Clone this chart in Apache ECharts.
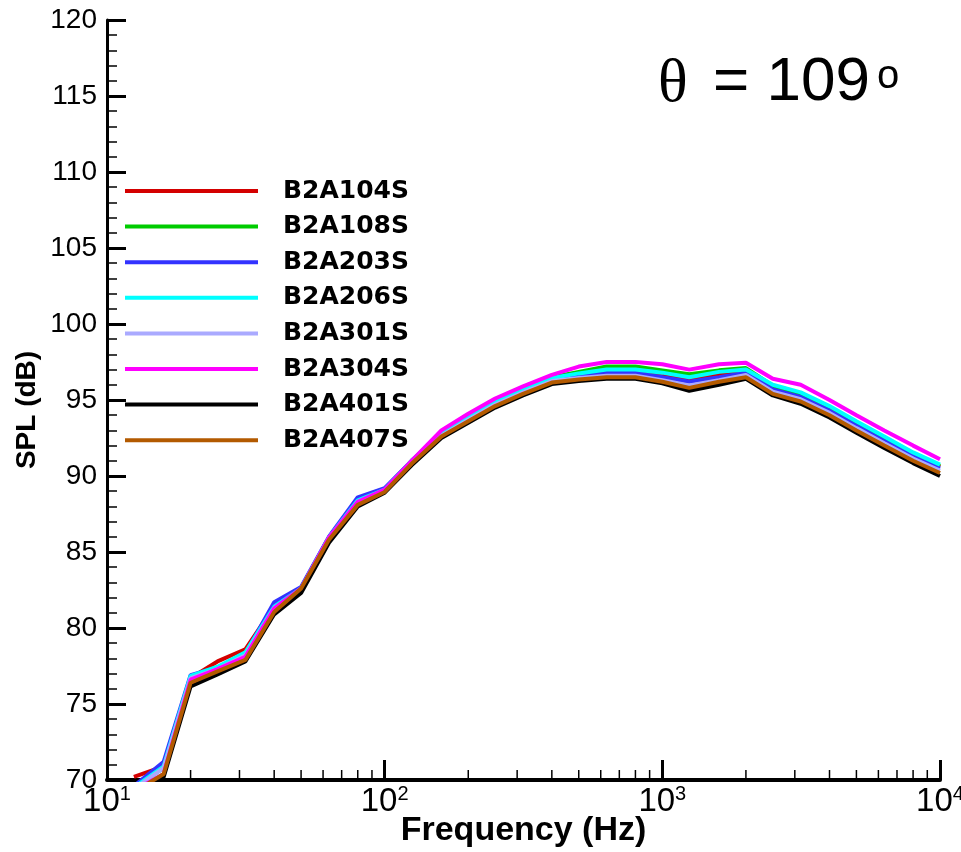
<!DOCTYPE html>
<html>
<head>
<meta charset="utf-8">
<script src="https://cdn.jsdelivr.net/npm/echarts@6/dist/echarts.min.js"></script>
<style>
html,body{margin:0;padding:0;background:#fff;}
#chart{width:961px;height:852px;}
</style>
</head>
<body>
<div id="chart"></div>
<script>
// Frequencies (1/3-octave band centres, Hz)
const freqs = [12.5, 16, 20, 25, 31.5, 40, 50, 63, 80, 100, 125, 160, 200, 250, 315, 400, 500, 630, 800, 1000, 1250, 1600, 2000, 2500, 3150, 4000, 5000, 6300, 8000, 10000];

const seriesNames = ['B2A104S', 'B2A108S', 'B2A203S', 'B2A206S', 'B2A301S', 'B2A304S', 'B2A401S', 'B2A407S'];
const seriesColors = ['#d40000', '#00cc00', '#3333ff', '#00ffff', '#aaaaff', '#ff00ff', '#000000', '#b35a00'];

const spl_B2A104S = [70.2, 70.9, 76.7, 77.8, 78.6, 81.4, 82.6, 85.9, 88.3, 89.1, 90.9, 92.7, 93.8, 94.8, 95.6, 96.4, 96.7, 96.95, 96.95, 96.65, 96.4, 96.7, 97.0, 95.85, 95.35, 94.45, 93.45, 92.45, 91.4, 90.6];
const spl_B2A108S = [69.5, 70.8, 76.7, 77.4, 78.3, 81.4, 82.6, 85.95, 88.4, 89.1, 91.0, 92.8, 93.9, 94.9, 95.7, 96.5, 96.85, 97.2, 97.2, 96.95, 96.7, 96.95, 97.1, 95.95, 95.4, 94.5, 93.5, 92.5, 91.45, 90.65];
const spl_B2A203S = [69.6, 71.2, 76.9, 77.4, 78.3, 81.7, 82.7, 86.0, 88.6, 89.2, 91.0, 92.7, 93.8, 94.8, 95.6, 96.35, 96.6, 96.8, 96.8, 96.5, 96.2, 96.5, 96.8, 95.7, 95.2, 94.3, 93.3, 92.3, 91.3, 90.5];
const spl_B2A206S = [69.5, 70.9, 76.85, 77.45, 78.4, 81.4, 82.6, 85.95, 88.4, 89.1, 91.0, 92.8, 93.9, 94.9, 95.7, 96.45, 96.75, 97.0, 97.0, 96.8, 96.5, 96.85, 97.0, 96.0, 95.5, 94.6, 93.6, 92.6, 91.55, 90.75];
const spl_B2A301S = [69.4, 70.8, 76.7, 77.3, 78.2, 81.3, 82.5, 85.9, 88.3, 89.0, 90.9, 92.65, 93.7, 94.7, 95.5, 96.25, 96.45, 96.6, 96.6, 96.3, 95.95, 96.3, 96.65, 95.55, 95.05, 94.15, 93.15, 92.15, 91.15, 90.35];
const spl_B2A304S = [69.3, 70.4, 76.6, 77.3, 78.1, 81.3, 82.6, 85.95, 88.3, 89.1, 91.0, 93.0, 94.1, 95.1, 95.9, 96.65, 97.2, 97.5, 97.5, 97.35, 97.0, 97.35, 97.45, 96.4, 96.0, 95.0, 94.0, 93.0, 92.0, 91.1];
const spl_B2A401S = [69.0, 70.2, 76.15, 76.95, 77.8, 80.9, 82.3, 85.6, 88.0, 88.9, 90.7, 92.5, 93.5, 94.5, 95.3, 96.05, 96.25, 96.4, 96.4, 96.1, 95.6, 96.0, 96.4, 95.3, 94.75, 93.85, 92.85, 91.85, 90.85, 90.0];
const spl_B2A407S = [69.2, 70.4, 76.4, 77.15, 77.9, 81.05, 82.6, 85.8, 88.1, 88.95, 90.8, 92.6, 93.6, 94.6, 95.4, 96.15, 96.35, 96.5, 96.5, 96.2, 95.8, 96.2, 96.5, 95.4, 94.9, 94.0, 93.0, 92.0, 91.0, 90.2];

const seriesValues = [spl_B2A104S, spl_B2A108S, spl_B2A203S, spl_B2A206S, spl_B2A301S, spl_B2A304S, spl_B2A401S, spl_B2A407S];

// Minor tick positions on the log frequency axis
const minorFreqs = [20, 30, 40, 50, 60, 70, 80, 90, 200, 300, 400, 500, 600, 700, 800, 900, 2000, 3000, 4000, 5000, 6000, 7000, 8000, 9000];

const titleTheta = 'θ';
const titleMain = '= 109';
const titleSup = 'o';

const chart = echarts.init(document.getElementById('chart'), null, {renderer: 'canvas'});

const lineSeries = seriesNames.map((name, i) => ({
  name: name,
  type: 'line',
  data: freqs.map((f, j) => [f, seriesValues[i][j]]),
  showSymbol: false,
  symbol: 'none',
  color: seriesColors[i],
  lineStyle: {width: 4, color: seriesColors[i]},
  clip: true,
  animation: false,
  z: 2
}));

const minorTickSeries = {
  type: 'custom',
  name: 'minorTicks',
  data: minorFreqs.map(f => [f]),
  silent: true,
  animation: false,
  z: 5,
  clip: false,
  renderItem: function (params, api) {
    const p = api.coord([api.value(0), 70]);
    return {
      type: 'line',
      shape: {x1: p[0], y1: p[1], x2: p[0], y2: p[1] - 10},
      style: {stroke: '#000', lineWidth: 1.5}
    };
  }
};

const option = {
  backgroundColor: '#ffffff',
  animation: false,
  grid: {left: 107, right: 21, top: 20, bottom: 72, containLabel: false, outerBoundsMode: 'none'},
  legend: {
    data: seriesNames,
    orient: 'vertical',
    left: 125,
    top: 176,
    padding: 0,
    icon: 'rect',
    itemWidth: 133,
    itemHeight: 4,
    itemGap: 5.6,
    selectedMode: false,
    textStyle: {
      fontFamily: 'DejaVu Sans',
      fontWeight: 'bold',
      fontSize: 25,
      color: '#000',
      lineHeight: 30,
      padding: [0, 0, 0, 20]
    }
  },
  xAxis: {
    type: 'log',
    logBase: 10,
    min: 10,
    max: 10000,
    name: 'Frequency (Hz)',
    nameLocation: 'middle',
    nameGap: 34,
    nameMoveOverlap: false,
    nameTextStyle: {fontFamily: 'Liberation Sans', fontWeight: 'bold', fontSize: 34, color: '#000'},
    axisLine: {show: true, onZero: false, lineStyle: {color: '#000', width: 4}},
    axisTick: {show: true, inside: true, length: 20, lineStyle: {color: '#000', width: 3}},
    minorTick: {show: false},
    splitLine: {show: false},
    axisLabel: {
      margin: 4,
      color: '#000',
      fontFamily: 'Liberation Sans',
      formatter: function (v) {
        const e = Math.round(Math.log10(v));
        return '{b|10}{s|' + e + '}';
      },
      rich: {
        b: {fontSize: 33, fontFamily: 'Liberation Sans', color: '#000', lineHeight: 36},
        s: {fontSize: 20, fontFamily: 'Liberation Sans', color: '#000', verticalAlign: 'top', lineHeight: 20}
      }
    }
  },
  yAxis: {
    type: 'value',
    min: 70,
    max: 120,
    interval: 5,
    name: 'SPL (dB)',
    nameLocation: 'middle',
    nameGap: 66,
    nameMoveOverlap: false,
    nameRotate: 90,
    nameTextStyle: {fontFamily: 'Liberation Sans', fontWeight: 'bold', fontSize: 28, color: '#000', padding: [0, 20, 0, 0]},
    axisLine: {show: true, onZero: false, lineStyle: {color: '#000', width: 3}},
    axisTick: {show: true, inside: true, length: 19, lineStyle: {color: '#000', width: 3}},
    minorTick: {show: true, splitNumber: 5, length: 10, lineStyle: {color: '#000', width: 1.5}},
    splitLine: {show: false},
    axisLabel: {margin: 10, color: '#000', fontFamily: 'Liberation Sans', fontSize: 28}
  },
  graphic: [
    {type: 'text', left: 658, top: 54, style: {text: titleTheta, fontFamily: 'Liberation Serif', fontSize: 62, fill: '#000'}},
    {type: 'text', left: 713, top: 52, style: {text: titleMain, fontFamily: 'Liberation Sans', fontSize: 62, fill: '#000'}},
    {type: 'text', left: 877, top: 57, style: {text: titleSup, fontFamily: 'Liberation Sans', fontSize: 40, fill: '#000'}}
  ],
  series: lineSeries.concat([minorTickSeries])
};

chart.setOption(option);
</script>
</body>
</html>
